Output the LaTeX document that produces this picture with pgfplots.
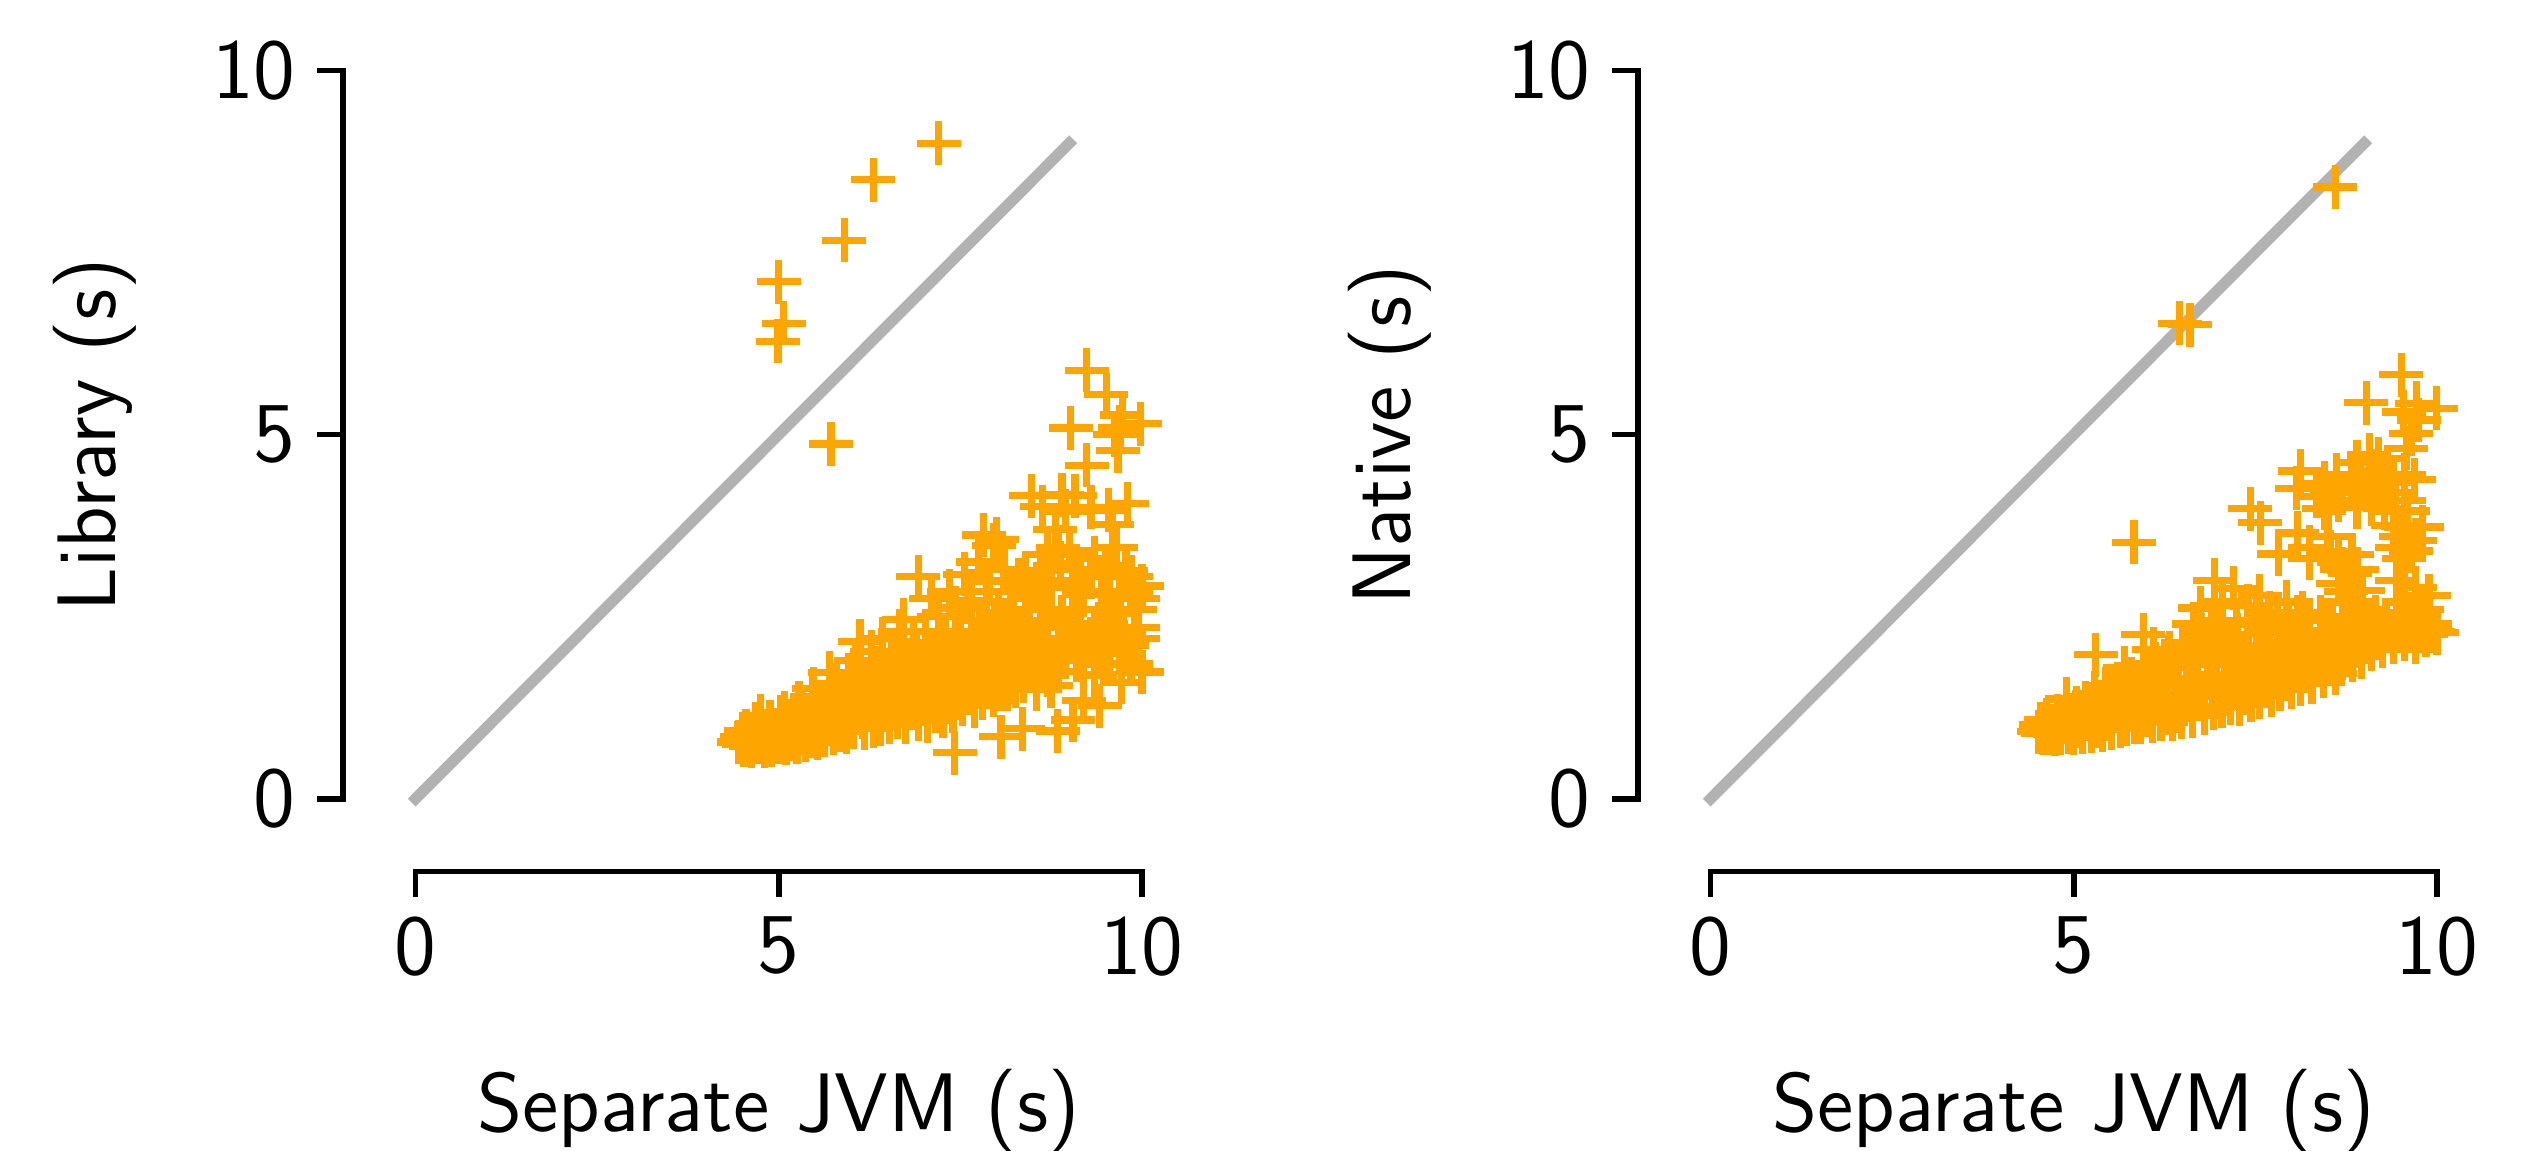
\documentclass[border=0pt]{standalone}
\usepackage{fontspec}
\usepackage{pgfplots}
\pgfplotsset{compat=1.18}
\definecolor{mk}{HTML}{FFA500}
\pgfplotsset{
 panel/.style={
  scale only axis, width=143.8bp, height=144.2bp,
  xmin=-1,xmax=10,ymin=-1,ymax=10,
  axis x line*=bottom, axis y line*=left,
  axis line style={draw=none},
  xtick={0,5,10}, ytick={0,5,10},
  tick align=outside, major tick length=4.6bp,
  tick style={black,line width=1bp},
  minor tick num=0,
  clip=false,
  /pgf/number format/assume math mode=true,
  tick label style={font=\sffamily\fontsize{15.4}{18}\selectfont},
  yticklabel style={xshift=-0.4bp},
  every axis x label/.style={at={(axis description cs:0.5454,0)},anchor=base,yshift=-46.8bp,font=\sffamily\fontsize{15}{18}\selectfont},
  every axis y label/.style={at={(axis description cs:0,0.5454)},xshift=-41bp,rotate=90,anchor=base,font=\sffamily\fontsize{15}{18}\selectfont},
 },
 pts/.style={only marks,mark=+,mark size=3.96bp,mark options={mk,line width=1.3bp}},
 diag/.style={black,opacity=0.3,line width=2bp,line cap=rect},
}
\begin{document}
\begin{tikzpicture}
\useasboundingbox (0,0) rectangle (455.04bp,207.18bp);
\begin{axis}[panel,at={(61.74bp,50.3bp)},anchor=south west,xlabel={Separate JVM (s)},ylabel={Library (s)}]
\addplot[pts] coordinates {
(7.2,9.0)(6.3,8.5)(5.9,7.67)(5.0,7.1)(5.07,6.53)(4.99,6.28)(5.72,4.87)
(9.24,5.88)(9.51,5.55)(9.02,5.09)(9.73,5.27)(9.98,5.15)(9.63,5.0)(9.67,4.78)(9.24,4.58)(9.7,5.1)
(8.48,4.16)(8.63,4.01)(8.9,4.17)(9.08,4.16)(9.8,4.05)(9.54,3.96)(9.59,3.77)(8.81,3.7)(8.95,3.95)(9.3,4.0)
(8.0,3.56)(7.82,3.62)(7.96,3.48)(6.92,3.05)(7.56,3.08)(7.9,2.99)(7.75,3.25)(8.6,3.13)(8.88,3.23)(9.78,3.13)(10.0,2.92)(9.55,3.2)(9.3,3.05)(9.45,2.85)(9.9,2.6)
(8.2,2.85)(8.45,2.8)(8.75,2.95)(9.05,2.9)(8.3,3.0)(9.7,2.75)(9.85,2.85)(9.6,2.55)(9.95,2.35)(10.0,1.74)(9.8,2.1)(9.6,2.25)(9.4,2.4)(9.15,2.6)(8.9,2.5)(8.65,2.6)
(8.85,3.45)(8.7,3.35)(9.0,3.4)(9.35,3.3)(9.65,3.45)(9.5,3.15)(9.15,3.15)(8.4,3.1)(8.1,3.15)(7.65,2.85)(7.35,2.85)(8.75,3.0)(9.85,3.05)(9.95,2.75)(9.2,2.8)(8.55,2.95)(7.1,2.75)
(7.42,0.63)(8.06,0.85)(8.36,0.96)(8.84,0.93)(9.05,1.08)(9.42,1.28)(9.72,1.6)(9.35,1.7)(9.1,1.9)(8.85,1.75)(8.6,1.85)(9.55,1.85)(9.85,1.85)(9.2,1.35)(8.55,1.5)(8.75,1.55)(9.0,2.15)(9.3,2.2)(8.7,2.2)(8.45,2.3)
(4.45,.78)(4.5,.85)(4.52,.74)(4.55,.93)(4.58,.8)(4.62,.72)(4.65,.88)(4.68,1.02)(4.72,.78)(4.75,1.14)(4.78,.93)(4.8,.72)
(4.85,.84)(4.88,1.05)(4.9,.74)(4.95,.95)(5.0,.78)(5.02,1.12)(5.05,.86)(5.08,1.18)(5.1,.76)
(5.15,.98)(5.18,.82)(5.22,1.08)(5.25,.78)(5.28,1.32)(5.3,.9)(5.33,1.2)(5.37,.8)(5.4,1.02)(5.43,.86)(5.46,1.4)(5.48,1.51)(5.5,.94)
(5.53,.83)(5.56,1.13)(5.6,1.3)(5.63,.87)(5.66,1.02)(5.7,1.73)(5.72,1.45)(5.75,.9)(5.78,1.2)(5.8,1.58)(5.84,.95)(5.87,1.35)(5.9,1.05)
(5.93,.92)(5.96,1.7)(6.0,1.25)(6.03,.98)(6.06,1.9)(6.08,1.5)(6.12,2.16)(6.15,1.12)(6.18,.97)(6.2,1.62)(6.25,1.38)(6.28,2.02)(6.3,1.0)
(6.33,1.8)(6.36,1.2)(6.4,1.02)(6.43,2.2)(6.46,1.55)(6.5,1.32)(6.53,1.05)(6.56,1.95)(6.6,1.7)(6.63,1.12)(6.67,2.3)(6.7,1.45)(6.72,2.46)
(6.75,1.05)(6.78,1.9)(6.82,1.25)(6.85,2.15)(6.88,1.6)(6.92,1.1)(6.95,1.8)(7.0,1.38)(7.02,2.3)(7.05,1.07)(7.1,2.0)(7.13,1.55)(7.16,1.2)
(7.2,2.5)(7.23,1.75)(7.26,1.13)(7.3,2.2)(7.33,1.42)(7.37,1.95)(7.4,1.2)(7.43,2.62)(7.46,1.6)(7.5,2.3)(7.53,1.3)(7.56,1.85)(7.6,2.72)
(7.63,1.45)(7.66,2.1)(7.7,1.28)(7.73,1.7)(7.76,2.45)(7.8,1.38)(7.83,1.95)(7.86,2.7)(7.9,1.55)(7.93,2.2)(7.96,1.42)(8.0,1.8)(8.03,2.55)
(8.06,1.5)(8.1,2.05)(8.13,2.35)(8.16,1.6)(8.2,1.9)(8.23,2.6)(8.26,1.55)(8.3,2.2)(8.33,1.75)(8.37,1.62)(8.4,2.45)(8.43,1.95)
(6.0,1.05)(6.6,1.3)(7.0,1.6)(7.4,1.55)(7.75,1.55)(8.1,1.75)(8.25,2.0)(7.6,2.0)(7.2,1.35)(6.85,1.4)(6.5,1.6)(6.2,1.25)(5.9,1.2)(5.6,1.0)
(8.5,2.05)(8.7,1.7)(8.95,1.95)(9.2,2.05)(9.45,2.05)(9.7,2.0)(8.6,2.4)(8.85,2.35)(9.1,2.3)(9.5,2.4)(9.75,2.3)(9.95,2.2)
(6.3,1.45)(6.55,1.5)(6.75,1.75)(6.95,1.5)(7.15,1.85)(7.35,1.7)(7.55,1.65)(7.7,1.9)(7.9,1.7)(8.05,2.2)(8.25,1.85)(6.9,2.0)(7.25,2.05)(7.45,2.1)(7.65,2.3)(7.85,2.15)(8.0,2.4)(8.35,2.35)(6.65,1.9)(6.4,1.7)(6.15,1.5)
(7.05,1.3)(7.25,1.45)(7.5,1.45)(7.7,1.5)(7.95,1.6)(8.15,1.5)(8.35,1.85)
};
\addplot[diag] coordinates {(0,0)(9,9)};
\draw[black,line width=1bp,line cap=rect] (axis cs:0,-1)--(axis cs:10,-1);
\draw[black,line width=1bp,line cap=rect] (axis cs:-1,0)--(axis cs:-1,10);
\end{axis}
\begin{axis}[panel,at={(294.84bp,50.3bp)},anchor=south west,xlabel={Separate JVM (s)},ylabel={Native (s)}]
\addplot[pts] coordinates {
(6.46,6.53)(6.6,6.51)(8.6,8.4)(5.83,3.52)
(9.51,5.82)(9.03,5.44)(9.72,5.43)(9.99,5.36)(9.54,5.31)(9.65,5.01)(9.58,4.81)(9.75,5.2)
(9.07,4.72)(8.12,4.5)(8.07,4.26)(8.62,4.45)(8.9,4.62)(9.2,4.67)(9.69,4.38)(8.45,4.33)(8.83,4.31)(9.43,4.2)(9.3,4.45)(9.55,4.45)(8.7,4.2)(9.05,4.25)
(8.45,3.99)(8.9,4.0)(9.28,3.99)(8.65,4.1)(9.1,4.05)(9.55,4.1)(8.55,4.2)(8.95,4.4)(9.15,4.5)(9.4,4.35)(8.35,4.15)(9.2,4.2)(9.6,3.95)
(7.43,3.98)(7.57,3.79)(8.08,3.65)(7.82,3.36)(9.58,3.72)(9.8,3.73)(9.5,3.6)(9.65,3.4)(8.53,3.39)(8.83,3.35)(8.5,3.6)(8.25,3.45)(9.4,3.75)(9.55,3.3)(9.45,3.45)(9.7,3.55)(8.65,3.25)(8.9,3.15)
(6.94,3.0)(7.2,2.89)(7.56,2.79)(7.93,2.7)(8.64,2.96)(8.98,2.86)(9.89,2.79)(8.7,3.15)(8.85,2.7)(8.8,3.1)(9.8,2.6)(7.4,2.65)(7.7,2.55)(8.15,2.55)(8.5,2.45)(8.95,2.6)(8.75,2.85)(7.05,2.7)
(9.45,3.0)(9.7,2.9)(9.55,2.7)(8.25,3.3)
(5.96,2.25)(5.3,1.98)(6.74,2.62)(6.65,2.4)(6.5,2.15)(6.3,1.95)(6.1,2.05)(5.7,1.8)(5.5,1.55)(6.9,2.45)
(4.52,.92)(4.55,1.02)(4.58,.9)(4.62,1.08)(4.66,.9)(4.7,1.0)(4.74,.89)(4.78,1.14)(4.82,.9)(4.86,1.05)(4.9,1.37)(4.93,.91)(4.97,1.15)
(5.0,.9)(5.04,1.25)(5.08,1.0)(5.12,.92)(5.16,1.32)(5.2,1.1)(5.24,.93)(5.28,1.45)(5.32,1.0)(5.36,1.22)(5.4,.95)(5.44,1.5)(5.48,1.1)
(5.52,.97)(5.56,1.35)(5.6,1.58)(5.64,1.0)(5.68,1.2)(5.72,1.02)(5.76,1.45)(5.8,1.65)(5.84,1.05)(5.88,1.3)(5.92,1.06)(5.96,1.75)(6.0,1.15)
(6.04,1.5)(6.08,1.07)(6.12,1.85)(6.16,1.3)(6.2,1.09)(6.24,1.65)(6.28,1.18)(6.32,2.0)(6.36,1.1)(6.4,1.45)(6.44,1.8)(6.48,1.12)(6.52,1.3)
(6.56,2.1)(6.6,1.6)(6.64,1.14)(6.68,1.9)(6.72,1.4)(6.76,2.25)(6.8,1.18)(6.84,1.7)(6.88,2.05)(6.92,1.25)(6.96,1.5)(7.0,2.3)(7.04,1.27)
(7.08,1.85)(7.12,2.15)(7.16,1.32)(7.2,1.6)(7.24,2.4)(7.28,1.3)(7.32,1.95)(7.36,1.45)(7.4,2.25)(7.44,1.35)(7.48,1.75)(7.52,2.45)(7.56,1.4)
(7.6,2.05)(7.64,1.55)(7.68,2.35)(7.72,1.42)(7.76,1.85)(7.8,2.5)(7.84,1.5)(7.88,2.15)(7.92,1.65)(7.96,2.4)(8.0,1.53)(8.04,1.95)(8.08,2.5)
(8.12,1.58)(8.16,2.2)(8.2,1.75)(8.24,2.45)(8.28,1.6)(8.32,2.05)(8.36,1.85)(8.4,2.5)(8.44,1.68)(8.48,2.25)(8.52,1.95)(8.56,2.45)(8.6,1.72)
(8.64,2.1)(8.68,1.85)(8.72,2.5)(8.76,2.0)(8.8,2.3)(8.84,1.9)(8.88,2.45)(8.92,2.15)(8.96,1.95)(9.0,2.4)(9.05,2.2)(9.1,2.05)(9.15,2.5)
(9.2,2.25)(9.25,2.1)(9.3,2.45)(9.35,2.3)(9.4,2.15)(9.45,2.5)(9.5,2.3)(9.55,2.2)(9.6,2.45)(9.65,2.3)(9.7,2.15)(9.75,2.45)(9.8,2.3)(9.85,2.25)(9.9,2.4)(9.95,2.3)(10.0,2.28)
(5.5,1.15)(5.8,1.25)(6.1,1.4)(6.4,1.2)(6.7,1.55)(7.0,1.4)(7.3,1.65)(7.6,1.7)(7.9,1.8)(8.2,1.95)(8.5,2.1)
(6.2,1.55)(6.55,1.85)(6.85,1.9)(7.15,2.0)(7.4,1.95)(7.7,2.1)(7.95,2.0)(8.25,2.25)(6.0,1.6)(6.95,2.2)(7.25,2.25)(7.55,2.25)(7.85,2.3)
};
\addplot[diag] coordinates {(0,0)(9,9)};
\draw[black,line width=1bp,line cap=rect] (axis cs:0,-1)--(axis cs:10,-1);
\draw[black,line width=1bp,line cap=rect] (axis cs:-1,0)--(axis cs:-1,10);
\end{axis}
\end{tikzpicture}
\end{document}
